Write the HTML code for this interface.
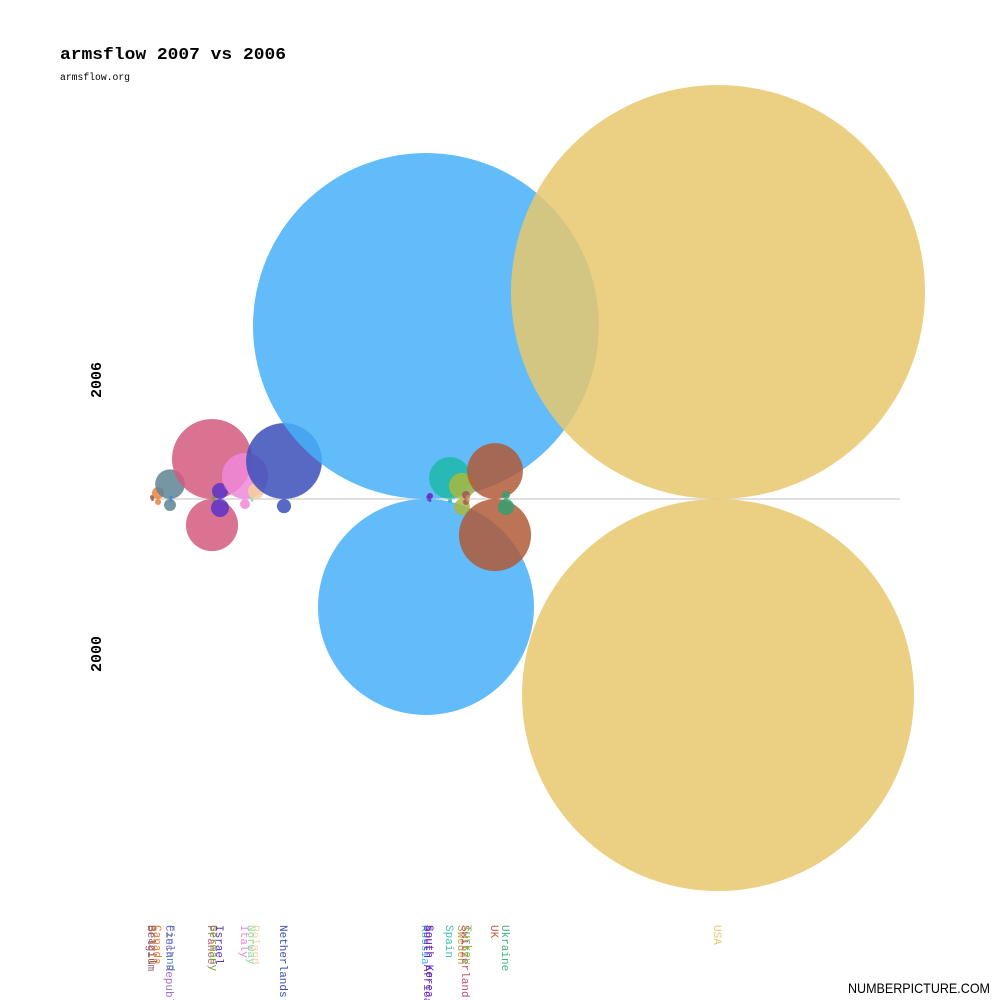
<!DOCTYPE html>
<html><head><meta charset="utf-8"><style>
html,body{margin:0;padding:0;background:#fff;}
#wrap{position:relative;width:1000px;height:1000px;overflow:hidden;font-family:"Liberation Mono","DejaVu Sans Mono",monospace;}
</style></head><body>
<div id="wrap">
<svg id="svg" width="1000" height="1000" xmlns="http://www.w3.org/2000/svg">
<text x="60" y="59" font-family="Liberation Mono, monospace" font-size="17" font-weight="bold" textLength="226" lengthAdjust="spacingAndGlyphs" fill="#000">armsflow 2007 vs 2006</text>
<text x="60" y="80" font-family="Liberation Mono, monospace" font-size="10" textLength="70" lengthAdjust="spacingAndGlyphs" fill="#000">armsflow.org</text>
<text transform="translate(101,398) rotate(-90)" font-family="Liberation Mono, monospace" font-size="15" font-weight="bold" fill="#000">2006</text>
<text transform="translate(101,672) rotate(-90)" font-family="Liberation Mono, monospace" font-size="15" font-weight="bold" fill="#000">2000</text>
<line x1="150" y1="499" x2="900" y2="499" stroke="#e0e0e0" stroke-width="2"/>
<g id="bubbles"></g>
<g id="labels"></g>
<text x="990" y="993" text-anchor="end" font-family="Liberation Sans, sans-serif" font-size="14" textLength="142" lengthAdjust="spacingAndGlyphs" fill="#000">NUMBERPICTURE.COM</text>
</svg>
</div>
<script>
const countries=["Belgium","Brazil","Canada","Czech Republic","Finland","France","Germany","Israel","Italy","Norway","Poland","Netherlands","Russia","South Africa","South Korea","Spain","Sweden","Switzerland","Turkey","UK","Ukraine","USA"];
const positions=[2,3,8,20,21,62,64,70,95,102,106,134,276,278,280,300,312,316,318,345,356,568];
const values2006=[0.4,0.2,3.6,22,0.3,160,0.5,6.4,53,0.4,6.4,144,2993,0.3,0.9,44,17,1.6,0.4,78,1.6,4285];
const values2000=[0.1,0.1,0.9,3.6,0.2,68,0.3,8.1,2.5,0.2,0,5,1166,0.1,0.2,0.4,6.4,0.9,0.3,130,6.4,3842];
const colors=["#8a5a7a","#b06040","#e8833a","#5e8494","#5080d0","#d45a7e","#70a040","#5a32c8","#ee88d8","#80e0a0","#f5cfa0","#3a4fb8","#45b0f8","#7040b0","#6a20c0","#20b8a8","#a8b840","#a85060","#c0a040","#b05a38","#30a070","#e8c86e"];
const labelColors=["#8a5a7a","#b06040","#e8833a","#a070c0","#5080d0","#d45a7e","#70a040","#5a32c8","#ee88d8","#80e0a0","#f5cfa0","#3a4fb8","#4ab2f6","#7040b0","#6a20c0","#40c0b0","#c0a040","#c05080","#80c040","#c06040","#40b080","#e8c86e"];
const NS="http://www.w3.org/2000/svg";
const baseY=499;
function xScale(v){return 150+v*1.0;}
function rScale(v){return Math.sqrt(v*10);}
const gB=document.getElementById('bubbles'),gL=document.getElementById('labels');
countries.forEach((c,i)=>{
  const x=xScale(positions[i]);
  const r1=rScale(values2006[i]);
  if(r1>0){
    const e=document.createElementNS(NS,'circle');
    e.setAttribute('cx',x);e.setAttribute('cy',baseY-r1);e.setAttribute('r',r1);
    e.setAttribute('fill',colors[i]);e.setAttribute('fill-opacity','0.85');
    
    
    gB.appendChild(e);
  }
  const r2=rScale(values2000[i]);
  if(r2>0){
    const e=document.createElementNS(NS,'circle');
    e.setAttribute('cx',x);e.setAttribute('cy',baseY+r2);e.setAttribute('r',r2);
    e.setAttribute('fill',colors[i]);e.setAttribute('fill-opacity','0.85');
    
    
    gB.appendChild(e);
  }
  const t=document.createElementNS(NS,'text');
  t.setAttribute('transform','translate('+(x-4)+',925) rotate(90)');
  t.setAttribute('font-family','Liberation Mono, monospace');
  t.setAttribute('font-size','11');
  t.setAttribute('fill',labelColors[i]);
  t.textContent=c;
  
  
  gL.appendChild(t);
});
</script>
</body></html>
